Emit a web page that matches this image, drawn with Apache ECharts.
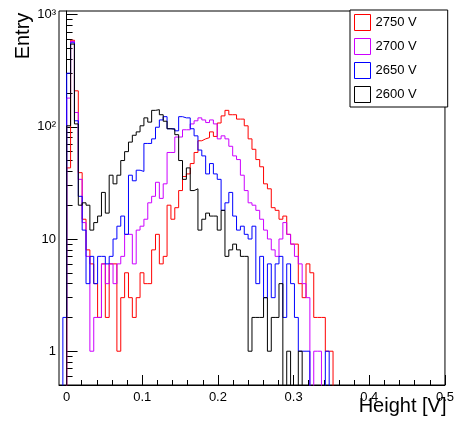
<!DOCTYPE html>
<html><head><meta charset="utf-8">
<script src="https://cdn.jsdelivr.net/npm/echarts@6/dist/echarts.min.js"></script>
<style>html,body{margin:0;padding:0;background:#fff}#c{width:457px;height:426px}</style>
</head><body><div id="c"></div>
<script>
// histogram definition: 100 bins from -0.01 to 0.5
const binLow = -0.01;
const binWidth = 0.0051;
const nBins = 100;

const seriesNames = ['2750 V', '2700 V', '2650 V', '2600 V'];
const seriesColors = ['#ff0000', '#cc00ff', '#0000ff', '#000000'];

// bin contents (index 0 = first bin); missing trailing bins are empty
const counts2750 = [0,0,43,590,209,39,15,8,6,4, 2,6,2,6,6,1,3,5,3,2, 3,5,4,4,8,11,6,7,20,15,
  19,27,36,38,47,59,75,78,80,90, 82,108,125,140,128,128,117,117,102,78, 63,51,44,31,28,19,18,15,16,11,
  9,9,4,3,6,5,2,2,2,1, 1];
const counts2700 = [0,0,180,575,134,34,14,7,1,2, 2,6,4,6,4,6,7,11,11,6, 12,13,15,21,24,32,23,31,59,59,
  81,81,94,94,106,113,120,115,109,115, 106,78,83,78,67,55,51,37,27,21, 20,18,15,12,10,8,7,10,14,11,
  9,7,6,4,3,0,1,1];
const counts2650 = [0,2,300,560,113,24,12,4,7,4, 7,7,6,7,10,13,16,11,37,33, 41,40,71,71,78,99,115,123,96,96,
  92,123,120,120,96,83,62,55,38,47, 38,34,18,21,26,16,12,13,11,10, 13,4,7,3,6,3,6,7,2,6,
  4,2,1,1,1,0,0,0,0,1];
const counts2600 = [0,0,102,545,106,20,21,20,12,14, 16,26,17,37,31,37,50,60,73,84, 90,102,120,110,140,142,128,112,96,95,
  85,50,34,43,27,28,12,15,17,16, 16,12,18,7,8,9,8,7,7,1, 2,2,2,3,1,2,2,4,0,1,
  0,0,1];
const allCounts = [counts2750, counts2700, counts2650, counts2600];

// axis ticks
const xMajorTicks = [0, 0.1, 0.2, 0.3, 0.4, 0.5];
const xMinorTicks = [];
for (let k = 1; k < 25; k++) { if (k % 5) xMinorTicks.push(Math.round(k * 20) / 1000); }
const yMajorTicks = [1, 10, 100, 1000];
const yMinorTicks = [0.5, 0.6, 0.7, 0.8, 0.9];
[1, 10, 100].forEach(d => { for (let m = 2; m <= 9; m++) yMinorTicks.push(m * d); });
const yLabelText = {1: '1', 10: '10', 100: '10\u00b2', 1000: '10\u00b3'};

const yMin = 0.5, yMax = 1075;
const emptyFloor = 0.05; // empty bins drawn below the frame (log scale)

function histData(c) {
  const d = [];
  for (let i = 0; i < nBins; i++) {
    const v = c[i] || 0;
    d.push([binLow + i * binWidth, v > 0 ? v : emptyFloor]);
  }
  const last = c[nBins - 1] || 0;
  d.push([binLow + nBins * binWidth, last > 0 ? last : emptyFloor]);
  return d;
}

const FONT = 'Liberation Sans, Arial, Helvetica, sans-serif';
const chart = echarts.init(document.getElementById('c'), null, {renderer: 'canvas'});

chart.setOption({
  animation: false,
  backgroundColor: '#fff',
  grid: {left: 59, right: 10, top: 11, bottom: 41, show: true, borderColor: '#000', borderWidth: 1, backgroundColor: 'transparent'},
  xAxis: [
    {type: 'value', min: binLow, max: binLow + nBins * binWidth, position: 'bottom',
      axisLine: {show: true, lineStyle: {color: '#000', width: 1}},
      axisTick: {show: true, inside: true, length: 10, lineStyle: {color: '#000', width: 1}, customValues: xMajorTicks},
      axisLabel: {show: true, margin: 6, color: '#000', fontSize: 13, fontFamily: FONT, customValues: xMajorTicks,
        formatter: v => String(v)},
      splitLine: {show: false}},
    {type: 'value', min: binLow, max: binLow + nBins * binWidth, position: 'bottom',
      axisLine: {show: false},
      axisTick: {show: true, inside: true, length: 5, lineStyle: {color: '#000', width: 1}, customValues: xMinorTicks},
      axisLabel: {show: false}, splitLine: {show: false}}
  ],
  yAxis: [
    {type: 'log', logBase: 10, min: yMin, max: yMax, position: 'left',
      axisLine: {show: true, lineStyle: {color: '#000', width: 1}},
      axisTick: {show: true, inside: true, length: 11, lineStyle: {color: '#000', width: 1}, customValues: yMajorTicks},
      axisLabel: {show: true, margin: 3, color: '#000', fontSize: 13, fontFamily: FONT, customValues: yMajorTicks,
        formatter: v => yLabelText[Math.round(v)] || String(v)},
      splitLine: {show: false}},
    {type: 'log', logBase: 10, min: yMin, max: yMax, position: 'left',
      axisLine: {show: false},
      axisTick: {show: true, inside: true, length: 6, lineStyle: {color: '#000', width: 1}, customValues: yMinorTicks},
      axisLabel: {show: false}, splitLine: {show: false}}
  ],
  legend: {
    orient: 'vertical', left: 350, top: 10,
    padding: [4, 31, 4, 4], itemGap: 7, itemWidth: 16, itemHeight: 16,
    backgroundColor: '#fff', borderColor: '#000', borderWidth: 1,
    textStyle: {color: '#000', fontSize: 13, fontFamily: FONT},
    data: seriesNames.map((n, i) => ({name: n, icon: 'rect',
      itemStyle: {color: '#fff', borderColor: seriesColors[i], borderWidth: 1}}))
  },
  graphic: [
    {type: 'text', x: 23.5, y: 36, rotation: Math.PI / 2,
      style: {text: 'Entry', font: '20px ' + FONT, fill: '#000', textAlign: 'center', textVerticalAlign: 'middle'}},
    {type: 'text', x: 446.5, y: 406,
      style: {text: 'Height [V]', font: '20px ' + FONT, fill: '#000', textAlign: 'right', textVerticalAlign: 'middle'}}
  ],
  series: seriesNames.map((n, i) => ({
    name: n, type: 'line', step: 'end', xAxisIndex: 0, yAxisIndex: 0,
    symbol: 'none', showSymbol: false, clip: true,
    lineStyle: {color: seriesColors[i], width: 1},
    itemStyle: {color: seriesColors[i]},
    data: histData(allCounts[i])
  }))
});
</script>
</body></html>
